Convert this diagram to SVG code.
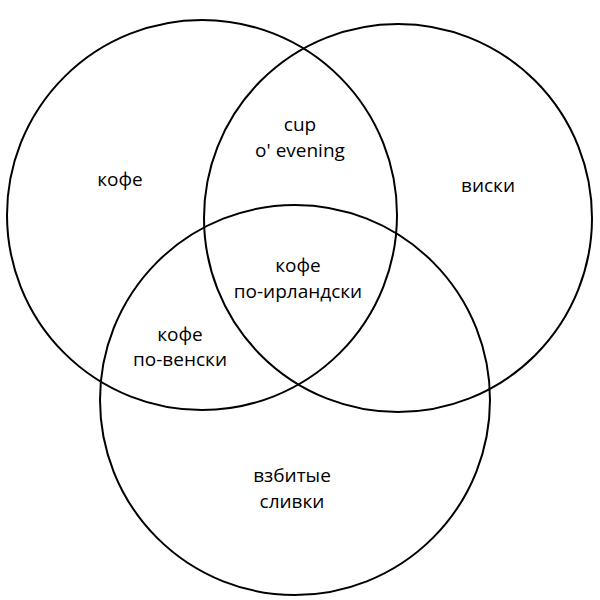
<svg xmlns="http://www.w3.org/2000/svg" width="600" height="600" viewBox="0 0 600 600">
<style>
.c{fill:none;stroke:#000;stroke-width:2}
.t{font-family:"Open Sans","Liberation Sans",sans-serif;font-size:19px;fill:#000;text-anchor:middle}
</style>
<rect width="600" height="600" fill="#fff"/>
<g id="coffee"><circle class="c" cx="202" cy="215" r="195"/><text class="t" x="120" y="186">кофе</text></g>
<g id="whisky"><circle class="c" cx="398" cy="218" r="194"/><text class="t" x="488" y="192">виски</text></g>
<g id="cream"><circle class="c" cx="295" cy="400" r="195"/><text class="t" x="292" y="482">взбитые</text><text class="t" x="292" y="508">сливки</text></g>
<g id="cup"><text class="t" x="300" y="131">cup</text><text class="t" x="300" y="157">o' evening</text></g>
<g id="irish"><text class="t" x="298" y="272">кофе</text><text class="t" x="298" y="298">по-ирландски</text></g>
<g id="vienna"><text class="t" x="180" y="341">кофе</text><text class="t" x="180" y="366">по-венски</text></g>
<g id="connectors"></g>
</svg>
